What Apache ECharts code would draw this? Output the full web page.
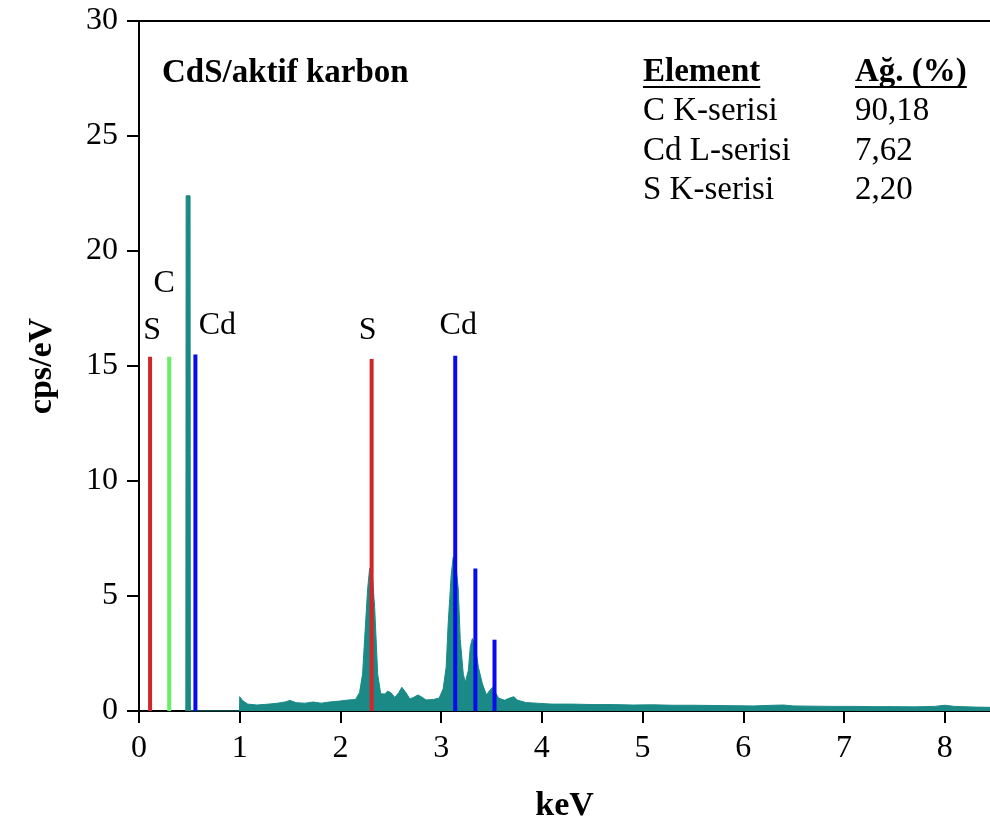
<!DOCTYPE html>
<html>
<head>
<meta charset="utf-8">
<script src="https://cdn.jsdelivr.net/npm/echarts@6/dist/echarts.min.js"></script>
<style>
html,body{margin:0;padding:0;background:#fff;}
#chart{width:990px;height:829px;}
</style>
</head>
<body>
<div id="chart"></div>
<script>
// ---- data ----
const spectrumKeV = [0.465,0.468,0.507,0.510,0.998,1.00,1.01,1.03,1.08,1.17,1.26,1.36,1.45,1.50,1.56,1.65,1.73,1.81,1.89,1.99,2.08,2.15,2.19,2.22,2.24,2.27,2.29,2.31,2.34,2.37,2.40,2.44,2.47,2.50,2.54,2.58,2.61,2.65,2.69,2.73,2.77,2.81,2.85,2.92,2.98,3.02,3.05,3.07,3.10,3.12,3.14,3.17,3.19,3.22,3.24,3.27,3.29,3.31,3.34,3.37,3.41,3.45,3.48,3.51,3.54,3.57,3.63,3.68,3.72,3.76,3.84,3.98,4.1,4.3,4.5,4.7,4.9,5.1,5.3,5.5,5.7,5.9,6.1,6.3,6.4,6.5,6.7,6.9,7.1,7.3,7.5,7.7,7.9,8.0,8.1,8.3,8.45];
const spectrumCps = [0,22.4,22.4,0,0,0.62,0.55,0.45,0.3,0.26,0.29,0.33,0.39,0.46,0.36,0.34,0.39,0.34,0.39,0.43,0.48,0.5,0.8,1.6,3.1,5.3,6.2,6.3,4.5,1.6,0.75,0.74,0.86,0.8,0.59,0.8,1.03,0.8,0.52,0.6,0.7,0.6,0.48,0.5,0.56,0.96,1.9,3.8,5.9,6.7,6.6,5.3,3.1,1.6,1.25,1.76,2.8,3.15,2.8,1.9,1.18,0.7,0.88,1.03,0.8,0.56,0.47,0.56,0.62,0.47,0.37,0.33,0.3,0.3,0.28,0.28,0.26,0.27,0.25,0.25,0.24,0.23,0.22,0.25,0.26,0.22,0.21,0.2,0.2,0.19,0.19,0.18,0.2,0.25,0.2,0.17,0.16];

const markerElement = ['S','C','Cd','S','Cd','Cd','Cd'];
const markerKeV = [0.11,0.30,0.56,2.31,3.14,3.34,3.53];
const markerHeight = [15.4,15.4,15.5,15.3,15.45,6.2,3.1];
const markerLabelShown = [true,true,true,true,true,false,false];

const xTicks = [0,1,2,3,4,5,6,7,8];
const yTicks = [0,5,10,15,20,25,30];

const sampleName = 'CdS/aktif karbon';
const tableHeader = ['Element','Ağ. (%)'];
const tableElements = ['C K-serisi','Cd L-serisi','S K-serisi'];
const tableWeights = ['90,18','7,62','2,20'];

// ---- styles ----
const FONT = '"Liberation Serif","Times New Roman",serif';
const elementColor = {S:'#D0262A', C:'#66EE66', Cd:'#0A0AEE'};
const teal = '#1B8A86';
const labelOffset = [[2,-26],[-5,-73],[22,-29],[-4,-29],[3,-30],[0,0],[0,0]];

const chart = echarts.init(document.getElementById('chart'));

const spectrumData = spectrumKeV.map((k,i)=>[k, spectrumCps[i]]);

const markerSeries = markerKeV.map((k,i)=>({
  type:'line',
  data:[[k,0],[k,markerHeight[i]]],
  symbol:'none',
  lineStyle:{color:elementColor[markerElement[i]], width:4},
  endLabel:{
    show: markerLabelShown[i],
    formatter: markerElement[i],
    distance:0,
    offset: labelOffset[i],
    align:'center',
    verticalAlign:'middle',
    color:'#000',
    fontFamily:FONT,
    fontSize:32
  },
  z:5, silent:true, animation:false
}));

// text measuring for underline
const ctx = document.createElement('canvas').getContext('2d');
function textWidth(t, font){ ctx.font = font; return ctx.measureText(t).width; }

const col1 = 643, col2 = 855;
const rowY = [72, 111, 151, 190];
const tFont = 33;
const graphics = [];
graphics.push({type:'text', left:162, top:57, style:{text:sampleName, font:'bold 33px '+FONT, fill:'#000'}});
tableHeader.forEach((h,j)=>{
  const x = j===0?col1:col2;
  const f = 'bold '+tFont+'px '+FONT;
  graphics.push({type:'text', x:x, y:rowY[0], style:{text:h, font:f, fill:'#000', textVerticalAlign:'middle'}});
  const w = textWidth(h, f);
  graphics.push({type:'line', shape:{x1:x, y1:rowY[0]+15, x2:x+w, y2:rowY[0]+15}, style:{stroke:'#000', lineWidth:2}});
});
tableElements.forEach((e,i)=>{
  graphics.push({type:'text', x:col1, y:rowY[i+1], style:{text:e, font:tFont+'px '+FONT, fill:'#000', textVerticalAlign:'middle'}});
  graphics.push({type:'text', x:col2, y:rowY[i+1], style:{text:tableWeights[i], font:tFont+'px '+FONT, fill:'#000', textVerticalAlign:'middle'}});
});

const option = {
  animation:false,
  backgroundColor:'#fff',
  grid:{left:139, right:0, top:21, bottom:118, containLabel:false},
  xAxis:[{
    type:'value', min:0, max:8.45, interval:1,
    name:'keV', nameLocation:'middle', nameGap:78,
    nameTextStyle:{fontFamily:FONT, fontWeight:'bold', fontSize:34, color:'#000'},
    axisLine:{show:true, onZero:false, lineStyle:{color:'#000', width:2}},
    axisTick:{show:true, length:12, lineStyle:{color:'#000', width:2}, customValues:xTicks},
    axisLabel:{show:true, margin:22, color:'#000', fontFamily:FONT, fontSize:32, customValues:xTicks},
    splitLine:{show:false}
  },{
    type:'value', min:0, max:8.45, position:'top',
    axisLine:{show:true, onZero:false, lineStyle:{color:'#000', width:2}},
    axisTick:{show:false}, axisLabel:{show:false}, splitLine:{show:false}
  }],
  yAxis:{
    type:'value', min:0, max:30, interval:5,
    name:'cps/eV', nameLocation:'middle', nameGap:80,
    nameTextStyle:{fontFamily:FONT, fontWeight:'bold', fontSize:34, color:'#000'},
    axisLine:{show:true, onZero:false, lineStyle:{color:'#000', width:2}},
    axisTick:{show:true, length:12, lineStyle:{color:'#000', width:2}, customValues:yTicks},
    axisLabel:{show:true, margin:21, color:'#000', fontFamily:FONT, fontSize:32, customValues:yTicks},
    splitLine:{show:false}
  },
  series:[{
    type:'line',
    data:spectrumData,
    symbol:'none',
    lineStyle:{color:teal, width:1},
    areaStyle:{color:teal, opacity:1},
    z:2, silent:true
  }].concat(markerSeries),
  graphic:graphics
};
chart.setOption(option);
</script>
</body>
</html>
